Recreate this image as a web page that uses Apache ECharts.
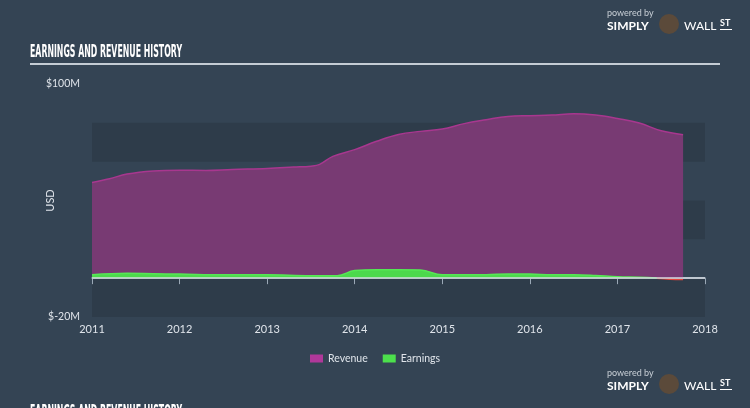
<!DOCTYPE html>
<html><head><meta charset="utf-8">
<script src="https://cdn.jsdelivr.net/npm/echarts@6/dist/echarts.min.js"></script>
<style>html,body{margin:0;padding:0;background:#344454;}#c{width:750px;height:408px;}</style>
</head><body><div id="c"></div>
<script>
const yearTicks = [2011, 2012, 2013, 2014, 2015, 2016, 2017, 2018];
const revenueX = [2011.0, 2011.2, 2011.4, 2011.7, 2012.0, 2012.3, 2012.6, 2013.0, 2013.3, 2013.5, 2013.6, 2013.75, 2014.0, 2014.25, 2014.5, 2014.75, 2015.0, 2015.25, 2015.5, 2015.75, 2016.0, 2016.25, 2016.5, 2016.75, 2017.0, 2017.25, 2017.5, 2017.75];
const revenueY = [49.3, 51.2, 53.6, 55.2, 55.6, 55.5, 56.0, 56.5, 57.2, 57.7, 58.6, 62.7, 66.2, 70.5, 74.0, 75.6, 76.8, 79.6, 81.6, 83.3, 83.7, 84.0, 84.7, 84.0, 82.2, 79.9, 75.9, 73.9];
const earningsX = [2011.0, 2011.4, 2011.7, 2012.0, 2012.5, 2013.0, 2013.5, 2013.8, 2014.0, 2014.25, 2014.5, 2014.75, 2015.0, 2015.5, 2015.75, 2016.0, 2016.25, 2016.5, 2016.75, 2017.0, 2017.25, 2017.45];
const earningsY = [1.7, 2.5, 2.3, 2.1, 1.7, 1.8, 1.3, 1.3, 3.9, 4.3, 4.3, 4.2, 1.7, 1.8, 2.2, 2.2, 1.7, 1.8, 1.4, 0.7, 0.5, 0.1];
const lossX = [2017.45, 2017.6, 2017.75];
const lossY = [0.0, -0.5, -0.7];

const revenue = revenueX.map((x, i) => [x, revenueY[i]]);
const earnings = earningsX.map((x, i) => [x, earningsY[i]]);
const loss = lossX.map((x, i) => [x, lossY[i]]);

const chart = echarts.init(document.getElementById('c'), null, {renderer: 'canvas'});
chart.setOption({
  backgroundColor: '#344454',
  animation: false,
  grid: {left: 92, right: 45, top: 84, bottom: 91},
  legend: {
    data: ['Revenue', 'Earnings'],
    top: 348, left: 'center',
    itemWidth: 13, itemHeight: 8, itemGap: 15,
    icon: 'rect',
    textStyle: {color: '#dfe4ea', fontSize: 10.5, fontFamily: 'Lato'}
  },
  xAxis: {
    type: 'value', min: 2011, max: 2018, interval: 1,
    axisLine: {show: true, lineStyle: {color: '#9aa8b6', width: 1.5}},
    axisTick: {show: true, length: 6, lineStyle: {color: '#9aa8b6'}},
    axisLabel: {color: '#dfe4ea', fontSize: 11, fontFamily: 'Lato', margin: 7,
      formatter: v => yearTicks.includes(v) ? String(v) : ''},
    splitLine: {show: false}
  },
  yAxis: {
    type: 'value', min: -20, max: 100, interval: 20,
    name: 'USD', nameLocation: 'middle', nameGap: 36, nameRotate: 90,
    nameMoveOverlap: false,
    nameTextStyle: {color: '#dfe4ea', fontSize: 11, fontFamily: 'Lato'},
    axisLine: {show: false}, axisTick: {show: false},
    axisLabel: {color: '#dfe4ea', fontSize: 10.5, fontFamily: 'Lato', margin: 12,
      formatter: v => v === 100 ? '$100M' : (v === -20 ? '$-20M' : '')},
    splitLine: {show: false},
    splitArea: {show: true, areaStyle: {color: ['#2e3c4a', 'rgba(0,0,0,0)']}}
  },
  series: [
    {
      name: 'Revenue', type: 'line', data: revenue, smooth: 0.4, symbol: 'none',
      itemStyle: {color: '#b0389a'},
      lineStyle: {color: '#a8378f', width: 1.5},
      areaStyle: {color: '#783a73', opacity: 1},
      markLine: {
        silent: true, symbol: 'none', label: {show: false},
        lineStyle: {color: '#d4dbe2', width: 1.5, type: 'solid'},
        data: [{yAxis: 0}]
      },
      z: 2
    },
    {
      name: 'Earnings', type: 'line', data: earnings, smooth: 0.4, symbol: 'none',
      itemStyle: {color: '#4ce04c'},
      lineStyle: {color: '#55e855', width: 1.5},
      areaStyle: {color: '#4cd94c', opacity: 1},
      z: 3
    },
    {
      name: 'Earnings', type: 'line', data: loss, smooth: 0.4, symbol: 'none',
      itemStyle: {color: '#4ce04c'},
      lineStyle: {color: '#e0443c', width: 1.5},
      areaStyle: {color: '#d8453a', opacity: 1},
      z: 3
    }
  ],
  graphic: [
    {type: 'text', left: 30, top: 44, scaleX: 0.46, style: {text: 'EARNINGS AND REVENUE HISTORY', fill: '#ffffff', font: 'bold 17px "DejaVu Sans"'}},
    {type: 'rect', shape: {x: 30, y: 63, width: 690, height: 2}, style: {fill: '#c4ccd4'}},
    {type: 'text', left: 607, top: 9, style: {text: 'powered by', fill: '#c8cfd6', font: '9px Lato'}},
    {type: 'text', left: 607, top: 20, style: {text: 'SIMPLY', fill: '#ffffff', font: 'bold 12px Lato'}},
    {type: 'circle', shape: {cx: 669, cy: 24, r: 10}, style: {fill: '#5b4a3a'}},
    {type: 'text', left: 684, top: 20, style: {text: 'WALL', fill: '#ffffff', font: '12px Lato'}},
    {type: 'text', left: 720, top: 19, style: {text: 'ST', fill: '#ffffff', font: 'bold 9px Lato'}},
    {type: 'rect', shape: {x: 720, y: 29, width: 12, height: 1}, style: {fill: '#ffffff'}},
    {type: 'text', left: 607, top: 369, style: {text: 'powered by', fill: '#c8cfd6', font: '9px Lato'}},
    {type: 'text', left: 607, top: 380, style: {text: 'SIMPLY', fill: '#ffffff', font: 'bold 12px Lato'}},
    {type: 'circle', shape: {cx: 669, cy: 384, r: 10}, style: {fill: '#5b4a3a'}},
    {type: 'text', left: 684, top: 380, style: {text: 'WALL', fill: '#ffffff', font: '12px Lato'}},
    {type: 'text', left: 720, top: 379, style: {text: 'ST', fill: '#ffffff', font: 'bold 9px Lato'}},
    {type: 'rect', shape: {x: 720, y: 389, width: 12, height: 1}, style: {fill: '#ffffff'}},
    {type: 'text', left: 30, top: 404, scaleX: 0.46, style: {text: 'EARNINGS AND REVENUE HISTORY', fill: '#ffffff', font: 'bold 17px "DejaVu Sans"'}}
  ]
});
</script></body></html>
